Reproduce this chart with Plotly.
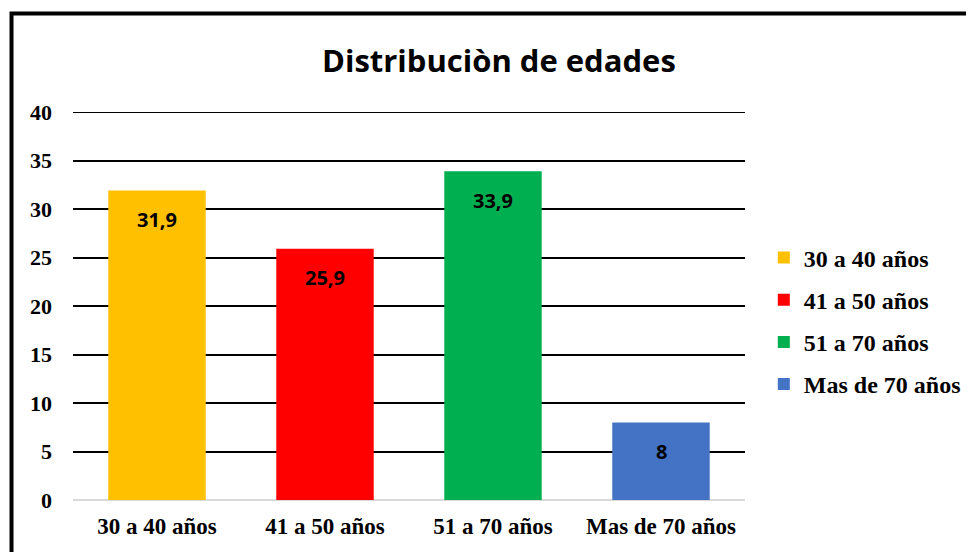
import plotly.graph_objects as go

# ── Data ──────────────────────────────────────────────────────────────────────
categories = ["30 a 40 años", "41 a 50 años", "51 a 70 años", "Mas de 70 años"]
values = [31.9, 25.9, 33.9, 8]
labels = ["31,9", "25,9", "33,9", "8"]
colours = ["#FFC000", "#FF0000", "#00B050", "#4472C4"]
y_ticks = [0, 5, 10, 15, 20, 25, 30, 35, 40]

SERIF = "Liberation Serif"
SANS = "Open Sans"

fig = go.Figure()

for i, (cat, val, col) in enumerate(zip(categories, values, colours)):
    fig.add_trace(go.Bar(
        x=[cat], y=[val], name=cat,
        marker=dict(color=col, line=dict(width=0)),
        width=0.58, legendgroup=f"g{i}",
    ))
    fig.add_annotation(
        x=cat, y=val, text=labels[i],
        showarrow=False, yshift=-29,
        font=dict(family=SANS, size=20, color="black", weight="bold"),
    )

# Title
fig.add_annotation(
    xref="paper", yref="paper", x=0.634, y=1.134, yanchor="middle",
    text="Distribuciòn de edades", showarrow=False,
    font=dict(family=SANS, size=31, color="black", weight="bold"),
)

# top gridline (plotly drops the one sitting on the plot edge)
fig.add_shape(
    type="line", xref="paper", yref="y",
    x0=0, x1=1, y0=y_ticks[-1], y1=y_ticks[-1],
    line=dict(color="black", width=2), layer="below",
)

# Outer chart border (runs off right and bottom edges)
fig.add_shape(
    type="rect", xref="paper", yref="paper",
    x0=-0.0915, x1=1.5, y0=-0.3, y1=1.254,
    line=dict(color="black", width=4), fillcolor="rgba(0,0,0,0)",
    layer="above",
)

fig.update_layout(
    width=974, height=552,
    paper_bgcolor="white", plot_bgcolor="white",
    barmode="overlay",
    margin=dict(l=65, r=237, t=104, b=60),
    showlegend=True,
    legend=dict(
        x=1.028, y=0.682, xanchor="left", yanchor="top",
        font=dict(family=SERIF, size=24, color="black", weight="bold"),
        tracegroupgap=8, itemwidth=30,
    ),
    font=dict(family=SERIF, color="black"),
)

fig.update_yaxes(
    range=[0, 40], tickvals=y_ticks,
    showgrid=True, gridcolor="black", gridwidth=2,
    zeroline=True, zerolinecolor="#d9d9d9", zerolinewidth=2,
    tickfont=dict(family=SERIF, size=22, color="black", weight="bold"),
    ticklabelstandoff=20, ticks="", showline=False,
)
fig.update_xaxes(
    showgrid=False, showline=False, ticks="",
    tickfont=dict(family=SERIF, size=23, color="black", weight="bold"),
    ticklabelstandoff=10,
)

fig.write_html("out.html")
